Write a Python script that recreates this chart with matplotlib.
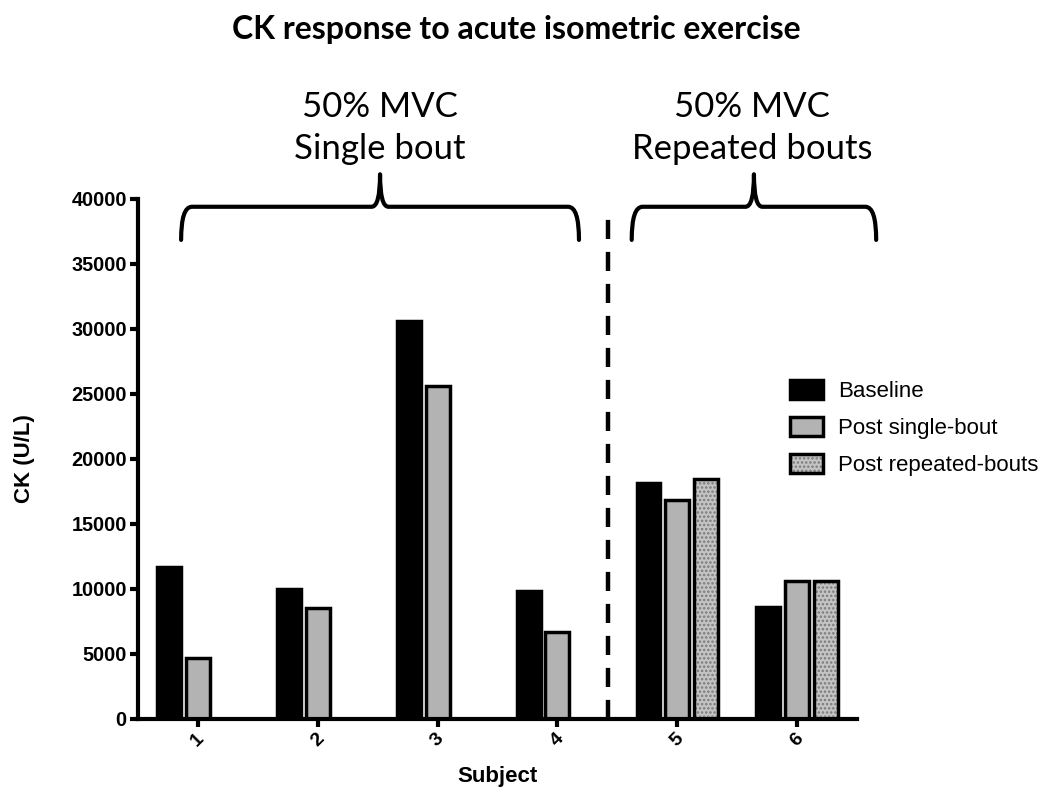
import matplotlib.pyplot as plt
import numpy as np
from matplotlib.path import Path
from matplotlib.patches import PathPatch
from matplotlib.legend_handler import HandlerTuple

plt.rcParams['font.family'] = ['Liberation Sans', 'DejaVu Sans']
plt.rcParams['hatch.linewidth'] = 1.2

# Data
subjects = ['1', '2', '3', '4', '5', '6']
baseline = [11700, 10000, 30600, 9850, 18150, 8600]
post_single = [4700, 8500, 25600, 6700, 16850, 10600]
post_repeated = [np.nan, np.nan, np.nan, np.nan, 18450, 10600]
series_labels = ['Baseline', 'Post single-bout', 'Post repeated-bouts']
groups = ['50% MVC\nSingle bout', '50% MVC\nRepeated bouts']

x = np.arange(1, len(subjects) + 1)
w = 0.2   # bar width
off = 0.24  # bar offset within a group
edge_lw = 2.5

fig = plt.figure(figsize=(10.5, 8.01), dpi=100)
ax = fig.add_axes([0.1314, 0.1024, 0.6848, 0.6492])

b1 = ax.bar(x - off, baseline, w, color='black', edgecolor='black', lw=edge_lw)
b2 = ax.bar(x, post_single, w, color='#b3b3b3', edgecolor='black', lw=edge_lw)

rep = np.array(post_repeated)
m = ~np.isnan(rep)
b3 = ax.bar(x[m] + off, rep[m], w, color='#c4c4c4', edgecolor='#7a7a7a',
            hatch='....', lw=0)
b3o = ax.bar(x[m] + off, rep[m], w, facecolor='none', edgecolor='black', lw=edge_lw)

ax.set_xlim(0.5, 6.5)
ax.set_ylim(0, 40000)
ax.set_yticks(np.arange(0, 40001, 5000))
ax.set_xticks(x)
ax.set_xticklabels(subjects, rotation=45, fontsize=14, fontweight='bold')
for lab in ax.get_yticklabels():
    lab.set_fontsize(14.3)
    lab.set_fontweight('bold')

for s in ['top', 'right']:
    ax.spines[s].set_visible(False)
for s in ['left', 'bottom']:
    ax.spines[s].set_linewidth(3)
ax.tick_params(width=3, length=6, pad=2)

ax.set_xlabel('Subject', fontsize=16, fontweight='bold', labelpad=12)
ax.set_ylabel('CK (U/L)', fontsize=16, fontweight='bold', labelpad=26)

# separator between single- and repeated-bout subjects
ax.axvline(4.42, ymax=0.979, color='black', lw=3.2, dashes=(4.3, 2.9))


def brace(x0, x1, xm, yb, yh, yp, dx=0.09, dm=0.07):
    verts = [(x0, yb), (x0, yh), (x0 + dx, yh),
             (xm - dm, yh), (xm, yh), (xm, yp),
             (xm, yh), (xm + dm, yh),
             (x1 - dx, yh), (x1, yh), (x1, yb)]
    codes = [Path.MOVETO, Path.CURVE3, Path.CURVE3,
             Path.LINETO, Path.CURVE3, Path.CURVE3,
             Path.CURVE3, Path.CURVE3,
             Path.LINETO, Path.CURVE3, Path.CURVE3]
    ax.add_patch(PathPatch(Path(verts, codes), facecolor='none', edgecolor='black',
                           lw=3, clip_on=False, capstyle='round', joinstyle='round'))


brace(0.86, 4.18, 2.52, 36850, 39400, 41900)
brace(4.62, 6.66, 5.64, 36850, 39400, 41900)

fig.text(380 / 1050, 1 - 128 / 801, groups[0], ha='center', va='center',
         fontsize=25, family='Lato', linespacing=1.42)
fig.text(752 / 1050, 1 - 128 / 801, groups[1], ha='center', va='center',
         fontsize=25, family='Lato', linespacing=1.42)

fig.text(516 / 1050, 1 - 30 / 801, 'CK response to acute isometric exercise',
         ha='center', va='center', fontsize=23, fontweight='bold', family='Lato')

fig.legend([b1[0], b2[0], (b3[0], b3o[0])], series_labels,
           handler_map={tuple: HandlerTuple(ndivide=1)},
           loc='upper left', bbox_to_anchor=(0.752, 0.5256), frameon=False,
           fontsize=16, handlelength=1.5, handleheight=0.92,
           handletextpad=0.7, labelspacing=0.68, borderpad=0, borderaxespad=0)

fig.savefig('out.png', dpi=100)
